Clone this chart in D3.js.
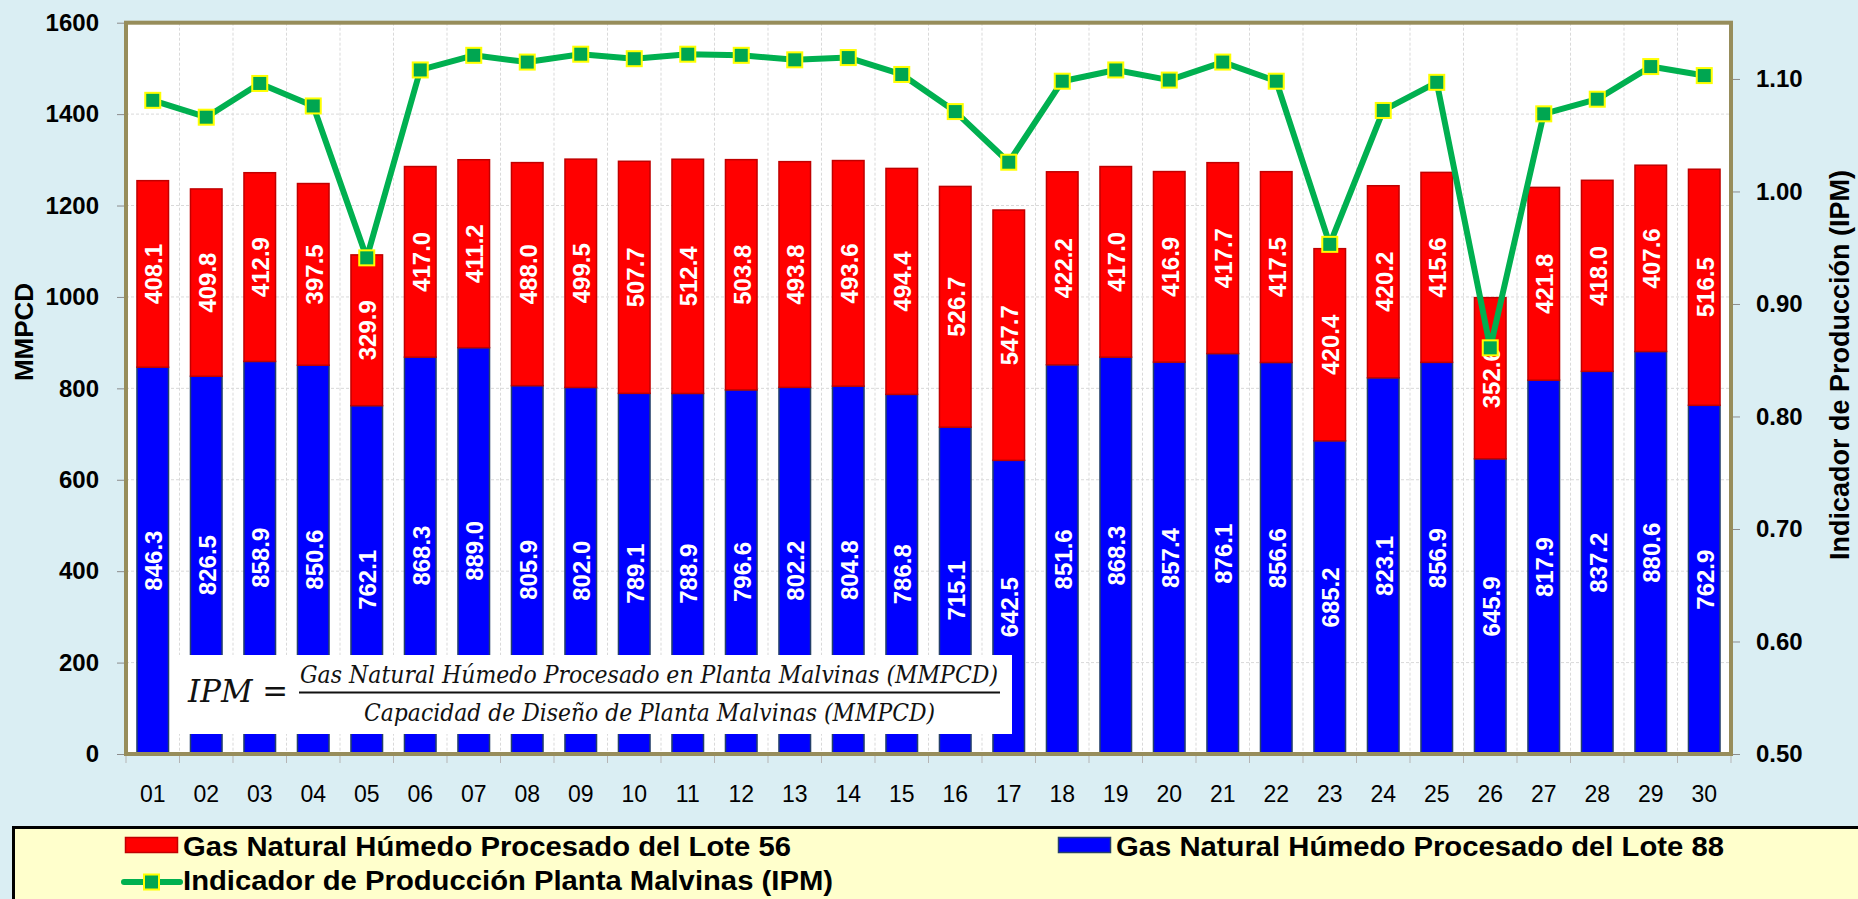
<!DOCTYPE html>
<html>
<head>
<meta charset="utf-8">
<script src="https://cdn.jsdelivr.net/npm/d3@7"></script>
<style>
  body { margin: 0; background: #DAEEF3; }
  svg { display: block; font-family: "Liberation Sans", Arial, sans-serif; }
</style>
</head>
<body>
<svg id="chart" width="1858" height="899"></svg>
<script>
"use strict";

// days of the month
var days = ["01","02","03","04","05","06","07","08","09","10",
            "11","12","13","14","15","16","17","18","19","20",
            "21","22","23","24","25","26","27","28","29","30"];

// Lote 88 (blue, bottom of the stack), MMPCD
var lote88 = [846.3, 826.5, 858.9, 850.6, 762.1, 868.3, 889.0, 805.9, 802.0, 789.1,
              788.9, 796.6, 802.2, 804.8, 786.8, 715.1, 642.5, 851.6, 868.3, 857.4,
              876.1, 856.6, 685.2, 823.1, 856.9, 645.9, 817.9, 837.2, 880.6, 762.9];

// Lote 56 (red, top of the stack), MMPCD
var lote56 = [408.1, 409.8, 412.9, 397.5, 329.9, 417.0, 411.2, 488.0, 499.5, 507.7,
              512.4, 503.8, 493.8, 493.6, 494.4, 526.7, 547.7, 422.2, 417.0, 416.9,
              417.7, 417.5, 420.4, 420.2, 415.6, 352.6, 421.8, 418.0, 407.6, 516.5];

// IPM read against the right axis
var ipm = [1.081, 1.066, 1.096, 1.076, 0.941, 1.108, 1.121, 1.115, 1.122, 1.118,
           1.122, 1.121, 1.117, 1.119, 1.104, 1.071, 1.026, 1.098, 1.108, 1.099,
           1.115, 1.098, 0.953, 1.072, 1.097, 0.861, 1.069, 1.082, 1.111, 1.103];

var leftTicks = [0, 200, 400, 600, 800, 1000, 1200, 1400, 1600];
var rightTicks = [0.5, 0.6, 0.7, 0.8, 0.9, 1.0, 1.1];

var frame = { l: 126, r: 1731, t: 22.7, b: 754 };
var olive = "#978D5B";
var mathFont = "'DejaVu Serif', 'Liberation Serif', serif";

var svg = d3.select("#chart");

var x = d3.scaleBand()
  .domain(days)
  .range([frame.l, frame.r])
  .paddingInner(0.41)
  .paddingOuter(0.205);

var yLeft = d3.scaleLinear().domain([0, 1600]).range([frame.b, frame.t]);
var yRight = d3.scaleLinear().domain([0.5, 1.15]).range([frame.b, frame.t]);

// plot area
svg.append("rect")
  .attr("x", frame.l).attr("y", frame.t)
  .attr("width", frame.r - frame.l).attr("height", frame.b - frame.t)
  .attr("fill", "#ffffff");

// grid
var grid = svg.append("g");
grid.selectAll("line.h")
  .data(leftTicks.slice(1))
  .enter().append("line")
  .attr("x1", frame.l).attr("x2", frame.r)
  .attr("y1", function(d) { return yLeft(d); })
  .attr("y2", function(d) { return yLeft(d); })
  .attr("stroke", "#d9d9d9").attr("stroke-dasharray", "3,2");
grid.selectAll("line.v")
  .data(days.slice(1))
  .enter().append("line")
  .attr("x1", function(d) { return x(d) - x.step() * x.paddingInner() / 2; })
  .attr("x2", function(d) { return x(d) - x.step() * x.paddingInner() / 2; })
  .attr("y1", frame.t).attr("y2", frame.b)
  .attr("stroke", "#d9d9d9").attr("stroke-dasharray", "3,2");

// stacked bars
var bars = svg.append("g");
bars.selectAll("rect.b88")
  .data(days)
  .enter().append("rect")
  .attr("x", function(d) { return x(d); })
  .attr("width", x.bandwidth())
  .attr("y", function(d, i) { return yLeft(lote88[i]); })
  .attr("height", function(d, i) { return yLeft(0) - yLeft(lote88[i]); })
  .attr("fill", "#0000FF")
  .attr("stroke", "#24406A").attr("stroke-width", 1.5);
bars.selectAll("rect.b56")
  .data(days)
  .enter().append("rect")
  .attr("x", function(d) { return x(d); })
  .attr("width", x.bandwidth())
  .attr("y", function(d, i) { return yLeft(lote88[i] + lote56[i]); })
  .attr("height", function(d, i) { return yLeft(lote88[i]) - yLeft(lote88[i] + lote56[i]); })
  .attr("fill", "#FF0000")
  .attr("stroke", "#C00000").attr("stroke-width", 1.5);

// bar labels
function barLabel(yMid, vals) {
  svg.append("g").selectAll("text")
    .data(days)
    .enter().append("text")
    .attr("transform", function(d, i) {
      return "translate(" + (x(d) + x.bandwidth() / 2 + 1) + "," + yMid(i) + ") rotate(-90)";
    })
    .attr("text-anchor", "middle")
    .attr("dominant-baseline", "central")
    .attr("fill", "#ffffff")
    .style("font-size", "24px")
    .style("font-weight", "bold")
    .text(function(d, i) { return vals[i].toFixed(1); });
}
barLabel(function(i) { return (yLeft(0) + yLeft(lote88[i])) / 2; }, lote88);
barLabel(function(i) { return (yLeft(lote88[i]) + yLeft(lote88[i] + lote56[i])) / 2; }, lote56);

// formula box
var fBox = svg.append("g");
fBox.append("rect")
  .attr("x", 170).attr("y", 655).attr("width", 842).attr("height", 79)
  .attr("fill", "#ffffff");
fBox.append("text")
  .attr("x", 188).attr("y", 702)
  .style("font-family", mathFont)
  .style("font-style", "italic")
  .style("font-size", "31px")
  .attr("fill", "#111")
  .attr("textLength", 100).attr("lengthAdjust", "spacingAndGlyphs")
  .text("IPM =");
fBox.append("line")
  .attr("x1", 299).attr("x2", 1000).attr("y1", 692.5).attr("y2", 692.5)
  .attr("stroke", "#111").attr("stroke-width", 2);
fBox.append("text")
  .attr("x", 300).attr("y", 683)
  .style("font-family", mathFont)
  .style("font-style", "italic")
  .style("font-size", "24px")
  .attr("fill", "#111")
  .attr("textLength", 698).attr("lengthAdjust", "spacingAndGlyphs")
  .text("Gas Natural Húmedo Procesado en Planta Malvinas (MMPCD)");
fBox.append("text")
  .attr("x", 364).attr("y", 721)
  .style("font-family", mathFont)
  .style("font-style", "italic")
  .style("font-size", "24px")
  .attr("fill", "#111")
  .attr("textLength", 571).attr("lengthAdjust", "spacingAndGlyphs")
  .text("Capacidad de Diseño de Planta Malvinas (MMPCD)");

// IPM line
var line = d3.line()
  .x(function(d, i) { return x(days[i]) + x.bandwidth() / 2; })
  .y(function(d) { return yRight(d); });
svg.append("path")
  .datum(ipm)
  .attr("d", line)
  .attr("fill", "none")
  .attr("stroke", "#00B050")
  .attr("stroke-width", 6)
  .attr("stroke-linejoin", "round");
svg.append("g").selectAll("rect")
  .data(ipm)
  .enter().append("rect")
  .attr("x", function(d, i) { return x(days[i]) + x.bandwidth() / 2 - 7.5; })
  .attr("y", function(d) { return yRight(d) - 7.5; })
  .attr("width", 15).attr("height", 15)
  .attr("fill", "#00A651")
  .attr("stroke", "#FFFF00").attr("stroke-width", 2);

// frame
svg.append("rect")
  .attr("x", frame.l).attr("y", frame.t)
  .attr("width", frame.r - frame.l).attr("height", frame.b - frame.t)
  .attr("fill", "none")
  .attr("stroke", olive).attr("stroke-width", 4);

// axes
var axL = svg.append("g")
  .attr("transform", "translate(" + (frame.l - 2) + ",0)")
  .call(d3.axisLeft(yLeft).tickValues(leftTicks).tickSize(7).tickPadding(18).tickFormat(d3.format("d")));
var axR = svg.append("g")
  .attr("transform", "translate(" + (frame.r + 2) + ",0)")
  .call(d3.axisRight(yRight).tickValues(rightTicks).tickSize(7).tickPadding(16).tickFormat(d3.format(".2f")));
var axB = svg.append("g")
  .attr("transform", "translate(0," + (frame.b + 2) + ")")
  .call(d3.axisBottom(x).tickSize(0).tickPadding(30));

[axL, axR].forEach(function(ax) {
  ax.select(".domain").remove();
  ax.selectAll(".tick line").attr("stroke", "#8c8c8c");
  ax.selectAll(".tick text")
    .attr("fill", "#000")
    .style("font-size", "24px")
    .style("font-weight", "bold")
    .style("font-family", "'Liberation Sans', Arial, sans-serif");
});
axB.select(".domain").remove();
axB.selectAll(".tick text")
  .attr("fill", "#000")
  .style("font-size", "23px")
  .style("font-family", "'Liberation Sans', Arial, sans-serif");

// tick marks between the categories
svg.append("g").selectAll("line")
  .data(days.concat(["end"]))
  .enter().append("line")
  .attr("x1", function(d, i) { return frame.l + i * x.step(); })
  .attr("x2", function(d, i) { return frame.l + i * x.step(); })
  .attr("y1", frame.b + 2).attr("y2", frame.b + 9)
  .attr("stroke", "#b5b5b5");

// axis titles
svg.append("text")
  .attr("transform", "translate(33,332) rotate(-90)")
  .attr("text-anchor", "middle")
  .style("font-size", "26px")
  .style("font-weight", "bold")
  .text("MMPCD");
svg.append("text")
  .attr("transform", "translate(1849,365) rotate(-90)")
  .attr("text-anchor", "middle")
  .style("font-size", "27px")
  .style("font-weight", "bold")
  .text("Indicador de Producción (IPM)");

// legend
var legend = svg.append("g");
legend.append("rect")
  .attr("x", 13.5).attr("y", 827.5).attr("width", 1900).attr("height", 120)
  .attr("fill", "#FFFFCC")
  .attr("stroke", "#000").attr("stroke-width", 3);
legend.append("rect")
  .attr("x", 125.5).attr("y", 837.5).attr("width", 52).attr("height", 15)
  .attr("fill", "#FF0000").attr("stroke", "#C00000").attr("stroke-width", 1.5);
legend.append("text")
  .attr("x", 183).attr("y", 856)
  .style("font-size", "27px").style("font-weight", "bold")
  .attr("textLength", 608).attr("lengthAdjust", "spacingAndGlyphs")
  .text("Gas Natural Húmedo Procesado del Lote 56");
legend.append("rect")
  .attr("x", 1058.5).attr("y", 837.5).attr("width", 52).attr("height", 15)
  .attr("fill", "#0000FF").attr("stroke", "#24406A").attr("stroke-width", 1.5);
legend.append("text")
  .attr("x", 1116).attr("y", 856)
  .style("font-size", "27px").style("font-weight", "bold")
  .attr("textLength", 608).attr("lengthAdjust", "spacingAndGlyphs")
  .text("Gas Natural Húmedo Procesado del Lote 88");
legend.append("line")
  .attr("x1", 124).attr("x2", 180).attr("y1", 882).attr("y2", 882)
  .attr("stroke", "#00B050").attr("stroke-width", 6).attr("stroke-linecap", "round");
legend.append("rect")
  .attr("x", 144).attr("y", 874.5).attr("width", 15).attr("height", 15)
  .attr("fill", "#00A651").attr("stroke", "#FFFF00").attr("stroke-width", 2);
legend.append("text")
  .attr("x", 183).attr("y", 890)
  .style("font-size", "27px").style("font-weight", "bold")
  .attr("textLength", 650).attr("lengthAdjust", "spacingAndGlyphs")
  .text("Indicador de Producción Planta Malvinas (IPM)");
</script>
</body>
</html>
